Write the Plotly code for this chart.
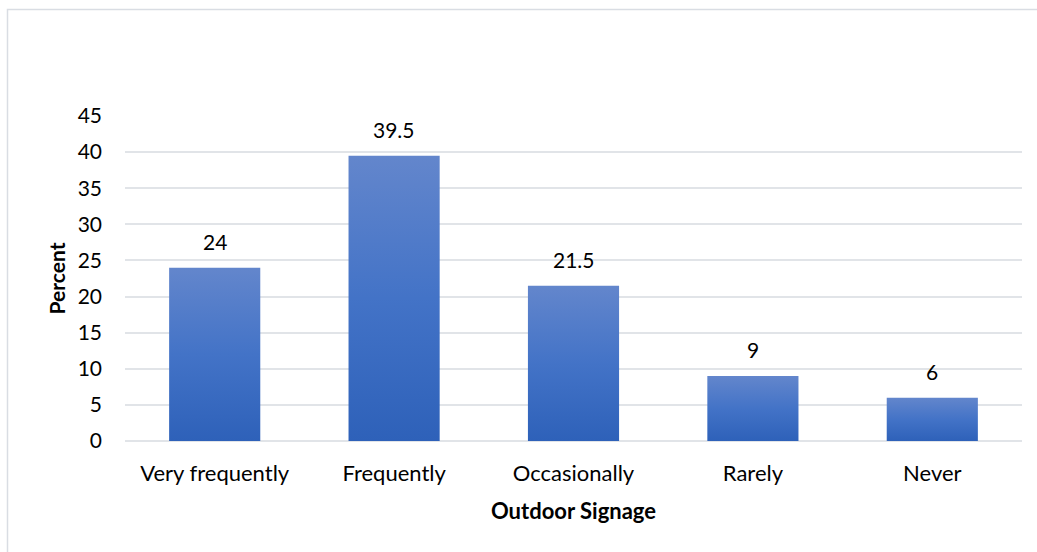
import plotly.graph_objects as go

# Survey responses: how often outdoor signage is noticed
categories = ["Very frequently", "Frequently", "Occasionally", "Rarely", "Never"]
percent = [24, 39.5, 21.5, 9, 6]
y_ticks = [0, 5, 10, 15, 20, 25, 30, 35, 40, 45]

FONT = "Lato"
SIZE = 21
BAR_HALF = 0.254
GRID = "#e1e4e8"

fig = go.Figure()

# Each column is a filled rectangle with a vertical blue gradient
for i, (cat, val) in enumerate(zip(categories, percent)):
    x0, x1 = i - BAR_HALF, i + BAR_HALF
    fig.add_trace(go.Scatter(
        x=[x0, x1, x1, x0, x0],
        y=[0, 0, val, val, 0],
        mode="lines",
        fill="toself",
        line=dict(width=0, color="rgba(0,0,0,0)"),
        fillgradient=dict(
            type="vertical",
            colorscale=[[0, "#2e61b9"], [0.5, "#4373c7"], [1, "#6386cc"]],
        ),
        name=cat,
        hoverinfo="skip",
        showlegend=False,
    ))

# Value labels above each column
annotations = [
    dict(x=i, y=val, xref="x", yref="y", text=f"{val:g}",
         showarrow=False, yanchor="bottom", yshift=12,
         font=dict(family=FONT, size=SIZE, color="#000000"))
    for i, val in enumerate(percent)
]

fig.update_layout(
    width=1037,
    height=552,
    margin=dict(l=125, r=15, t=116, b=111),
    paper_bgcolor="white",
    plot_bgcolor="white",
    font=dict(family=FONT, size=SIZE, color="#000000"),
    annotations=annotations,
    xaxis=dict(
        range=[-0.5, len(categories) - 0.5],
        tickmode="array",
        tickvals=list(range(len(categories))),
        ticktext=categories,
        showgrid=False,
        zeroline=False,
        showline=False,
        ticks="",
        ticklabelstandoff=17,
        tickfont=dict(family=FONT, size=22, color="#000000"),
        title=dict(text="<b>Outdoor Signage</b>", standoff=18,
                   font=dict(family=FONT, size=22, color="#000000")),
    ),
    yaxis=dict(
        range=[0, 45],
        tickmode="array",
        tickvals=y_ticks,
        showgrid=True,
        gridcolor=GRID,
        gridwidth=1.5,
        zeroline=True,
        zerolinecolor=GRID,
        zerolinewidth=1.5,
        showline=False,
        ticks="",
        ticklabelstandoff=22,
        tickfont=dict(family=FONT, size=SIZE, color="#000000"),
        title=dict(text="<b>Percent</b>", standoff=6,
                   font=dict(family=FONT, size=SIZE, color="#000000")),
    ),
    shapes=[dict(
        type="rect", xref="paper", yref="paper",
        x0=(7.5 - 125) / 897, x1=1.05,
        y0=-0.5, y1=(441 - 9.5) / 325,
        line=dict(color="#d9dde3", width=1.5),
        fillcolor="rgba(0,0,0,0)",
        layer="below",
    )],
)

fig.write_html("out.html")
